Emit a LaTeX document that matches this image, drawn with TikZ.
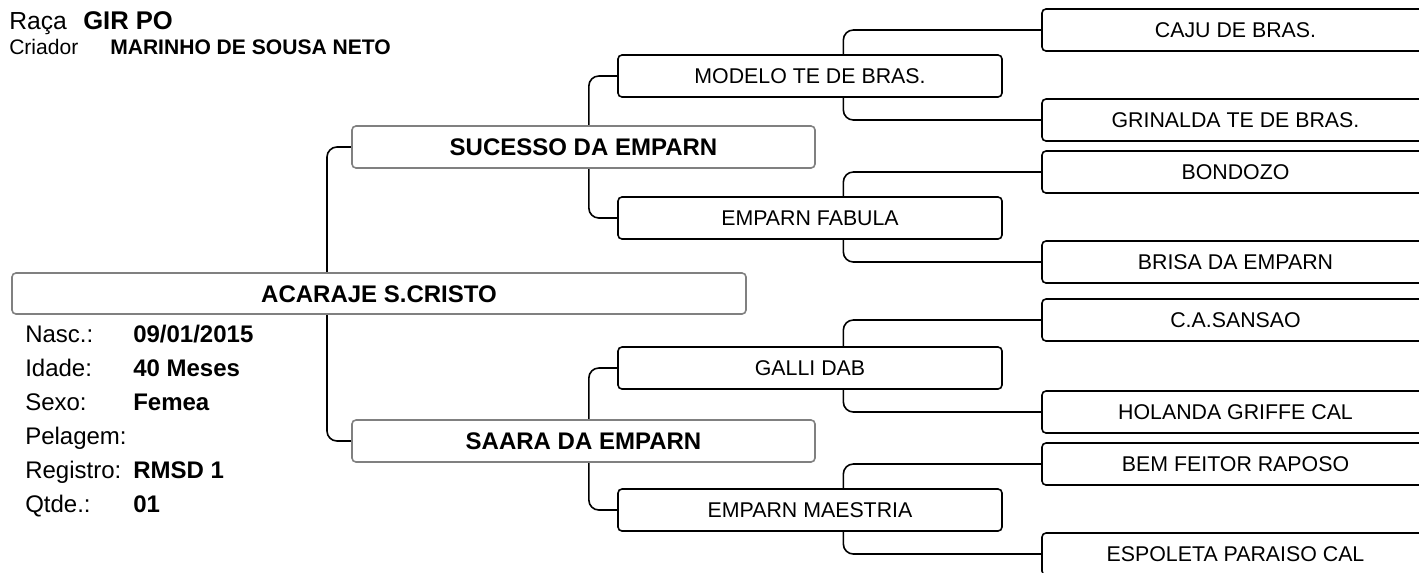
\documentclass[tikz,border=0pt]{standalone}
\usepackage{fontspec}
\setmainfont{Liberation Sans}
\usetikzlibrary{positioning, backgrounds}

\begin{document}
\begin{tikzpicture}[x=0.75pt, y=-0.75pt,
  rootbox/.style={rectangle, rounded corners=3pt, draw=black!50, line width=1.2pt, fill=white, minimum width=550.5pt, minimum height=30.75pt, inner sep=0pt, font=\fontsize{18}{20}\selectfont\bfseries, text height=12.9pt, text depth=0pt},
  parentbox/.style={rootbox, minimum width=347.25pt, minimum height=31.5pt},
  gpbox/.style={rectangle, rounded corners=3pt, draw=black, line width=1.2pt, fill=white, minimum width=288pt, minimum height=31.5pt, inner sep=0pt, font=\fontsize{16}{18}\selectfont, text height=11.5pt, text depth=0pt},
  ggpbox/.style={gpbox, minimum width=290.25pt},
  link/.style={draw=black, line width=1.2pt, rounded corners=7.5pt},
  headlabel/.style={anchor=base west, inner sep=0pt},
  infolabel/.style={anchor=base west, inner sep=0pt, font=\fontsize{18}{20}\selectfont},
  infovalue/.style={infolabel, font=\fontsize{18}{20}\selectfont\bfseries}]

\useasboundingbox (0,0) rectangle (1419,572);
\clip (0,0) rectangle (1419,572);

% header
\node[headlabel, font=\fontsize{18.5}{20}\selectfont] (raca) at (9,29) {Raça};
\node[headlabel, font=\fontsize{19.2}{21}\selectfont\bfseries] (racaval) at (83,29) {GIR PO};
\node[headlabel, font=\fontsize{15.8}{18}\selectfont] (criador) at (9,54) {Criador};
\node[headlabel, font=\fontsize{15.8}{18}\selectfont\bfseries] (criadorval) at (110,54) {MARINHO DE SOUSA NETO};

% animal
\node[rootbox] (root) at (379,293.5) {ACARAJE S.CRISTO};

% parents
\node[parentbox] (suc) at (583.5,147) {SUCESSO DA EMPARN};
\node[parentbox] (saa) at (583.5,441) {SAARA DA EMPARN};

% grandparents
\node[gpbox] (mod) at (810,76) {MODELO TE DE BRAS.};
\node[gpbox] (fab) at (810,218) {EMPARN FABULA};
\node[gpbox] (gal) at (810,368) {GALLI DAB};
\node[gpbox] (mae) at (810,510) {EMPARN MAESTRIA};

% great-grandparents
\node[ggpbox] (caju) at (1235.5,30) {CAJU DE BRAS.};
\node[ggpbox] (grin) at (1235.5,120) {GRINALDA TE DE BRAS.};
\node[ggpbox] (bond) at (1235.5,172) {BONDOZO};
\node[ggpbox] (bris) at (1235.5,262) {BRISA DA EMPARN};
\node[ggpbox] (sans) at (1235.5,320) {C.A.SANSAO};
\node[ggpbox] (hol) at (1235.5,412) {HOLANDA GRIFFE CAL};
\node[ggpbox] (bem) at (1235.5,464) {BEM FEITOR RAPOSO};
\node[ggpbox] (esp) at (1235.5,554) {ESPOLETA PARAISO CAL};

% info
\node[infolabel] (nasc) at (25,342) {Nasc.:};
\node[infovalue] (nascval) at (133,342) {09/01/2015};
\node[infolabel] (idade) at (25,376) {Idade:};
\node[infovalue] (idadeval) at (133,376) {40 Meses};
\node[infolabel] (sexo) at (25,410) {Sexo:};
\node[infovalue] (sexoval) at (133,410) {Femea};
\node[infolabel] (pelagem) at (25,444) {Pelagem:};
\node[infolabel] (registro) at (25,478) {Registro:};
\node[infovalue] (registroval) at (133,478) {RMSD 1};
\node[infolabel] (qtde) at (25,512) {Qtde.:};
\node[infovalue] (qtdeval) at (133,512) {01};

\begin{scope}[on background layer]
\draw[link] (suc.west) -| ([xshift=-39pt]root.center) |- (saa.west);
\draw[link] (mod.west) -| ([xshift=4pt]suc.center) |- (fab.west);
\draw[link] (gal.west) -| ([xshift=4pt]saa.center) |- (mae.west);
\foreach \gp/\sire/\dam in {mod/caju/grin, fab/bond/bris, gal/sans/hol, mae/bem/esp}
  \draw[link] (\sire.west) -| ([xshift=25pt]\gp.center) |- (\dam.west);
\end{scope}

\end{tikzpicture}
\end{document}
